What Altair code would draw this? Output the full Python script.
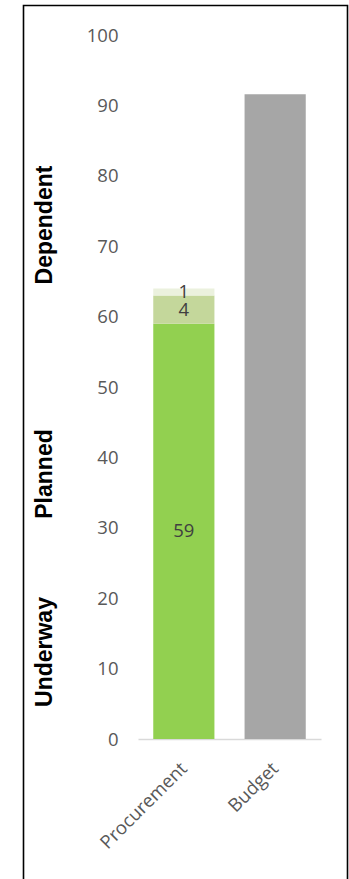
import altair as alt
import pandas as pd

# ---- data ----
categories = ["Procurement", "Procurement", "Procurement", "Budget"]
segments = ["Underway", "Planned", "Dependent", "Budget"]
values = [59, 4, 1, 91.6]
value_labels = ["59", "4", "1", ""]
stack_order = [0, 1, 2, 0]
x_order = ["Procurement", "Budget"]
seg_colors = ["#92D050", "#C4D79B", "#EBF1DE", "#A6A6A6"]
y_ticks = [0, 10, 20, 30, 40, 50, 60, 70, 80, 90, 100]
side_labels = ["Dependent", "Planned", "Underway"]

df = pd.DataFrame({
    "category": categories,
    "segment": segments,
    "value": values,
    "label": value_labels,
    "order": stack_order,
})

W, H = 183, 704
PAD_L, PAD_T = 138, 35
FONT = "Open Sans"
FS = 18.5

base = alt.Chart(df)

bars = base.mark_bar().encode(
    x=alt.X("category:N", sort=x_order,
            scale=alt.Scale(paddingInner=0.33, paddingOuter=0.167),
            axis=alt.Axis(title=None, labelAngle=-45, labelAlign="right",
                          labelBaseline="middle", labelPadding=26,
                          labelFont=FONT, labelFontSize=FS, labelColor="#595959",
                          ticks=False, domainColor="#D9D9D9", domainWidth=1.5)),
    y=alt.Y("value:Q", stack="zero",
            scale=alt.Scale(domain=[0, 100], nice=False),
            axis=alt.Axis(title=None, values=y_ticks, grid=False, domain=False,
                          ticks=False, tickSize=0, labelPadding=20,
                          labelFont=FONT, labelFontSize=FS, labelColor="#595959")),
    color=alt.Color("segment:N", scale=alt.Scale(domain=segments, range=seg_colors),
                    legend=None),
    order=alt.Order("order:Q"),
)

texts = base.transform_stack(
    stack="value", groupby=["category"], sort=[alt.SortField("order")],
    as_=["v0", "v1"]
).transform_calculate(
    mid="(datum.v0 + datum.v1) / 2"
).transform_filter(
    "datum.label != ''"
).mark_text(font=FONT, fontSize=FS, color="#404040", baseline="middle").encode(
    x=alt.X("category:N", sort=x_order),
    y=alt.Y("mid:Q"),
    text="label:N",
)

one = pd.DataFrame({"a": [0]})
frame = alt.Chart(one).mark_rect(fillOpacity=0, stroke="#000000", strokeWidth=1.6).encode(
    x=alt.value(23.5 - PAD_L), x2=alt.value(347.5 - PAD_L),
    y=alt.value(5.5 - PAD_T), y2=alt.value(H + 200),
)

side_y = [225, 474, 652]
side_layers = []
for name, yy in zip(side_labels, side_y):
    side_layers.append(
        alt.Chart(one).mark_text(
            text=name, angle=270, font="Liberation Sans", fontWeight="bold",
            fontSize=23, color="#000000", align="center", baseline="middle"
        ).encode(x=alt.value(45 - PAD_L), y=alt.value(yy - PAD_T))
    )

chart = alt.layer(frame, bars, texts, *side_layers).properties(
    width=W, height=H,
    autosize=alt.AutoSizeParams(type="none"),
    padding={"left": PAD_L, "top": PAD_T, "right": 349 - PAD_L - W, "bottom": 879 - PAD_T - H},
    background="white",
).configure_view(stroke=None)

chart.save("out.html", embed_options={"renderer": "svg", "actions": False})
